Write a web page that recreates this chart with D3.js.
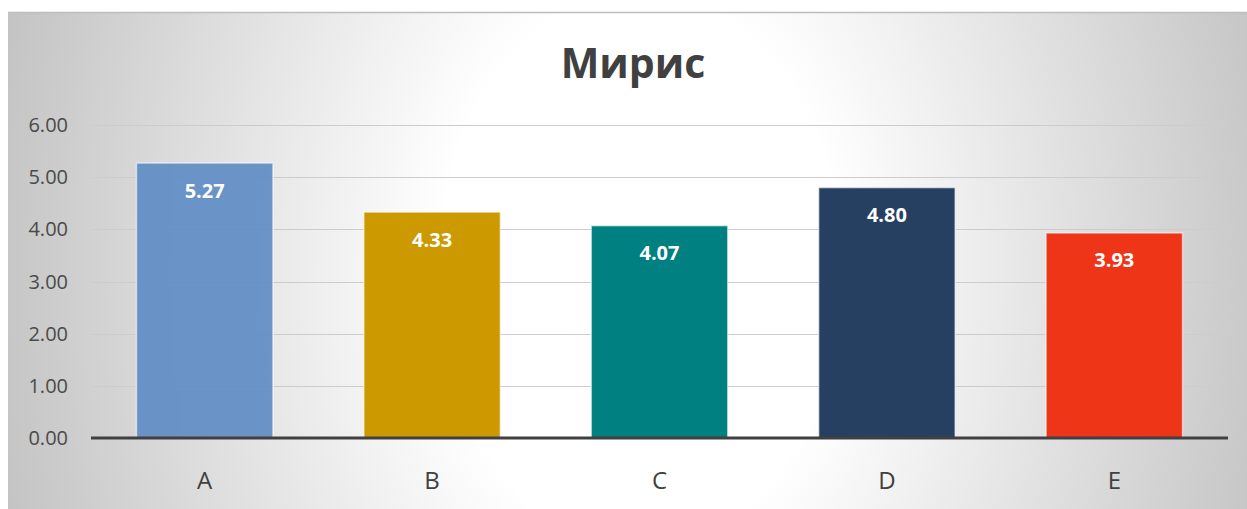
<!DOCTYPE html>
<html><head><meta charset="utf-8">
<script src="https://cdn.jsdelivr.net/npm/d3@7"></script>
<style>body{margin:0;background:#fff;}svg{display:block;}</style>
</head><body>
<script>
const categories = ["A","B","C","D","E"];
const values = [5.27, 4.33, 4.07, 4.80, 3.93];
const colors = ["#5f8cc5","#cc9900","#008080","#254061","#ee3517"];
const yTicks = [0,1,2,3,4,5,6];
const title = "Мирис";

const W = 1247, H = 509;
const svg = d3.select("body").append("svg").attr("width", W).attr("height", H);
const defs = svg.append("defs");
const rg = defs.append("radialGradient").attr("id","bg")
  .attr("gradientUnits","userSpaceOnUse").attr("cx",640).attr("cy",270).attr("r",660)
  .attr("gradientTransform","translate(640,270) scale(1,1.4) translate(-640,-270)");
rg.append("stop").attr("offset","0%").attr("stop-color","#ffffff");
rg.append("stop").attr("offset","30%").attr("stop-color","#ffffff");
rg.append("stop").attr("offset","100%").attr("stop-color","#c3c3c3");

svg.append("rect").attr("x",8).attr("y",12).attr("width",W-8).attr("height",H-12).attr("fill","url(#bg)");
svg.append("line").attr("x1",8).attr("x2",W).attr("y1",12.5).attr("y2",12.5).attr("stroke","#bdbdbd").attr("stroke-width",1.5);

const x0 = 91, x1 = 1228, yTop = 125, yBot = 438;
const x = d3.scaleBand().domain(categories).range([x0, x1]).paddingInner(0.4).paddingOuter(0.2);
const y = d3.scaleLinear().domain([0, 6]).range([yBot, yTop]);

// gridlines
svg.append("g").selectAll("line").data(yTicks.filter(d=>d>0)).join("line")
  .attr("x1",x0).attr("x2",x1).attr("y1",d=>Math.round(y(d))+0.5).attr("y2",d=>Math.round(y(d))+0.5)
  .attr("stroke","#cccccc").attr("stroke-width",1);

// y labels
svg.append("g").selectAll("text").data(yTicks).join("text")
  .attr("x",68).attr("y",d=>y(d)).attr("dy","0.35em").attr("text-anchor","end")
  .attr("font-family","'Open Sans', sans-serif").attr("font-size",20).attr("fill","#4a4a4a")
  .text(d=>d3.format(".2f")(d));

// bars
svg.append("g").selectAll("rect").data(values).join("rect")
  .attr("x",(d,i)=>x(categories[i])).attr("width",x.bandwidth())
  .attr("y",d=>y(d)).attr("height",d=>yBot-y(d))
  .attr("fill",(d,i)=>colors[i]).attr("fill-opacity",(d,i)=>i===0?0.92:1)
  .attr("stroke","rgba(255,255,255,0.55)").attr("stroke-width",1.5);

// value labels
svg.append("g").selectAll("text").data(values).join("text")
  .attr("x",(d,i)=>x(categories[i])+x.bandwidth()/2).attr("y",d=>y(d)+27.5).attr("dy","0.35em")
  .attr("text-anchor","middle").attr("font-family","'Open Sans', sans-serif").attr("font-weight","bold")
  .attr("font-size",20).attr("fill","#ffffff").text(d=>d3.format(".2f")(d));

// baseline
svg.append("line").attr("x1",x0).attr("x2",x1).attr("y1",yBot).attr("y2",yBot).attr("stroke","#404040").attr("stroke-width",3);

// x labels
svg.append("g").selectAll("text").data(categories).join("text")
  .attr("x",d=>x(d)+x.bandwidth()/2).attr("y",481).attr("dy","0.35em").attr("text-anchor","middle")
  .attr("font-family","'Open Sans', sans-serif").attr("font-size",24).attr("fill","#404040").text(d=>d);

// title
svg.append("text").attr("x",633).attr("y",64).attr("dy","0.35em").attr("text-anchor","middle")
  .attr("font-family","'Open Sans', sans-serif").attr("font-weight","bold").attr("font-size",41)
  .attr("fill","#404040").text(title);
</script>
</body></html>
